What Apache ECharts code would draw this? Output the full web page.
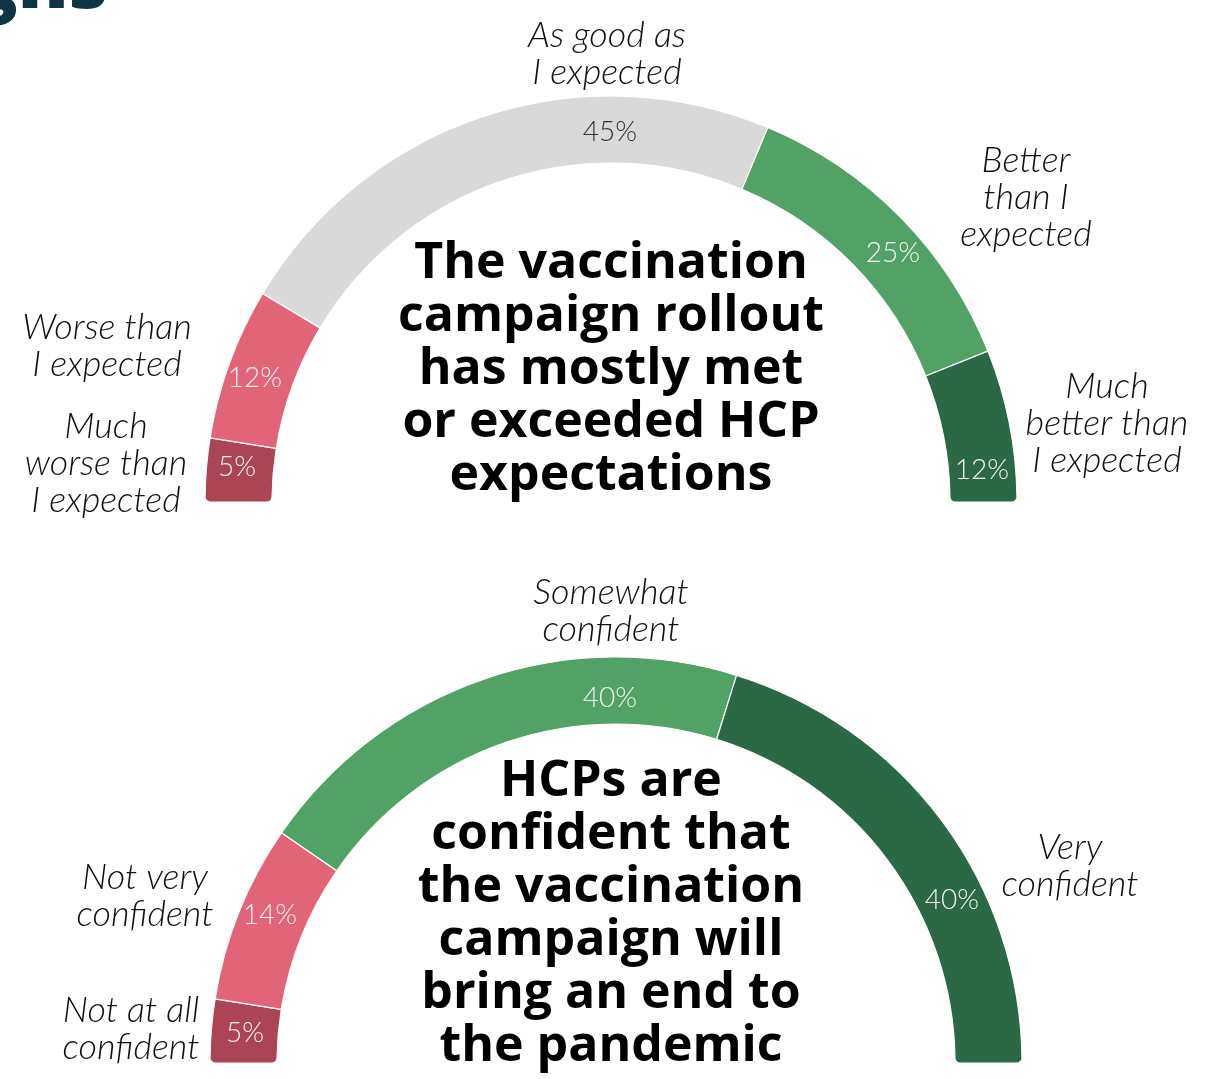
<!DOCTYPE html>
<html>
<head>
<meta charset="utf-8">
<script src="https://cdn.jsdelivr.net/npm/echarts@6/dist/echarts.min.js"></script>
<style>
  html, body { margin: 0; padding: 0; background: #fff; }
  #chart { width: 1226px; height: 1079px; }
</style>
</head>
<body>
<div id="chart"></div>
<script>
// 疫苗推广是否符合预期
const rolloutNames = ['Much\nworse than\nI expected', 'Worse than\nI expected', 'As good as\nI expected', 'Better\nthan I\nexpected', 'Much\nbetter than\nI expected'];
const rolloutValues = [5, 12, 45, 25, 12];
const rolloutTitle = 'The vaccination\ncampaign rollout\nhas mostly met\nor exceeded HCP\nexpectations';

// 对结束疫情的信心
const confidenceNames = ['Not at all\nconfident', 'Not very\nconfident', 'Somewhat\nconfident', 'Very\nconfident'];
const confidenceValues = [5, 14, 40, 40];
const confidenceTitle = 'HCPs are\nconfident that\nthe vaccination\ncampaign will\nbring an end to\nthe pandemic';

// 颜色
const rolloutColors = ['#ab4455', '#e26577', '#d9d9d9', '#52a266', '#2a6846'];
const confidenceColors = ['#ab4455', '#e26577', '#52a266', '#2a6846'];
const rolloutPctColors = ['#f2f2f2', '#f2f2f2', '#333333', '#f2f2f2', '#f2f2f2'];
const confidencePctColors = ['#f2f2f2', '#f2f2f2', '#f2f2f2', '#f2f2f2'];

// 标签位置（像素）
const rolloutPctPos = [[237, 467], [255, 378], [610, 132], [893, 253], [982, 470]];
const rolloutNamePos = [[106, 463], [107, 346], [607, 54], [1026, 197], [1107, 423]];
const confidencePctPos = [[245, 1033], [270, 915], [610, 698], [952, 900]];
const confidenceNamePos = [[131, 1029], [145, 896], [611, 611], [1070, 866]];

const chart = echarts.init(document.getElementById('chart'));

const endRadius = 5;
const buildData = (names, values, colors, pctColors) => values.map((v, i) => {
  let br = 0;
  if (i === 0) br = [endRadius, 0, endRadius, 0];
  if (i === values.length - 1) br = [0, endRadius, 0, endRadius];
  return {
    name: names[i],
    value: v,
    itemStyle: { color: colors[i], borderRadius: br },
    label: { color: pctColors[i] }
  };
});

// 半环形图：一层画扇区+百分比，一层只放外部文字
const makeSeries = (center, names, values, colors, pctColors, pctPos, namePos) => [
  {
    type: 'pie',
    silent: true,
    center: center,
    radius: [339, 406],
    startAngle: 180,
    endAngle: 0,
    clockwise: true,
    avoidLabelOverlap: false,
    itemStyle: { borderColor: '#ffffff', borderWidth: 1.2 },
    label: {
      show: true,
      position: 'inside',
      formatter: '{c}%',
      fontFamily: 'Lato',
      fontWeight: 300,
      fontSize: 28
    },
    labelLine: { show: false },
    labelLayout: (p) => ({ x: pctPos[p.dataIndex][0], y: pctPos[p.dataIndex][1], align: 'center', verticalAlign: 'middle' }),
    data: buildData(names, values, colors, pctColors)
  },
  {
    type: 'pie',
    silent: true,
    center: center,
    radius: [339, 406],
    startAngle: 180,
    endAngle: 0,
    clockwise: true,
    avoidLabelOverlap: false,
    itemStyle: { color: 'rgba(0,0,0,0)' },
    label: {
      show: true,
      position: 'outside',
      formatter: '{b}',
      fontFamily: 'Lato',
      fontStyle: 'italic',
      fontWeight: 300,
      fontSize: 36,
      lineHeight: 37,
      color: '#111111',
      align: 'center'
    },
    labelLine: { show: false },
    labelLayout: (p) => ({ x: namePos[p.dataIndex][0], y: namePos[p.dataIndex][1], align: 'center', verticalAlign: 'middle' }),
    data: values.map((v, i) => ({ name: names[i], value: v }))
  }
];

const centerText = (text, y) => ({
  type: 'text',
  x: 611,
  y: y,
  style: {
    text: text,
    fill: '#000000',
    font: 'bold 50px "Open Sans"',
    lineHeight: 53,
    align: 'center',
    verticalAlign: 'middle'
  }
});

chart.setOption({
  animation: false,
  graphic: [
    {
      type: 'text',
      x: 108,
      y: -14,
      style: {
        text: 'gns',
        fill: '#0f3442',
        font: '800 76px "Open Sans"',
        align: 'right',
        verticalAlign: 'middle'
      }
    },
    centerText(rolloutTitle, 370),
    centerText(confidenceTitle, 914)
  ],
  series: [
    ...makeSeries([611, 502], rolloutNames, rolloutValues, rolloutColors, rolloutPctColors, rolloutPctPos, rolloutNamePos),
    ...makeSeries([616, 1063], confidenceNames, confidenceValues, confidenceColors, confidencePctColors, confidencePctPos, confidenceNamePos)
  ]
});

window.addEventListener('resize', chart.resize);
</script>
</body>
</html>
